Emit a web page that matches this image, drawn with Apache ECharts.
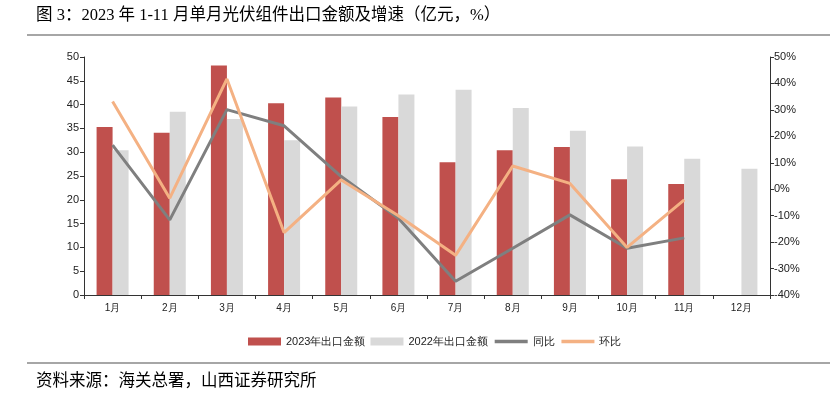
<!DOCTYPE html>
<html>
<head>
<meta charset="utf-8">
<script src="https://cdn.jsdelivr.net/npm/echarts@6/dist/echarts.min.js"></script>
<style>
html,body{margin:0;padding:0;background:#fff;}
#c{width:837px;height:394px;}
</style>
</head>
<body>
<div id="c"></div>
<script>
const categories = ['1月','2月','3月','4月','5月','6月','7月','8月','9月','10月','11月','12月'];
const export2023 = [35.3, 34.1, 48.2, 40.3, 41.5, 37.4, 27.9, 30.4, 31.1, 24.3, 23.3, null];
const export2022 = [30.4, 38.5, 37.0, 32.5, 39.6, 42.1, 43.1, 39.3, 34.5, 31.2, 28.6, 26.5];
const yoy = [16.7, -11.6, 30.1, 24.0, 4.8, -11.0, -34.8, -22.3, -9.7, -22.3, -18.4, null];
const mom = [33.2, -3.4, 41.7, -16.4, 3.5, -10.0, -25.0, 8.8, 2.2, -22.0, -4.0, null];
const leftTicks = {min: 0, max: 50, interval: 5};
const rightTicks = {min: -40, max: 50, interval: 10};

const chart = echarts.init(document.getElementById('c'));
const axisFont = 'Liberation Sans, Arial, sans-serif';
chart.setOption({
  animation: false,
  backgroundColor: '#fff',
  graphic: [
    {type: 'text', left: 36, top: 7, style: {text: '图 3：2023 年 1-11 月单月光伏组件出口金额及增速（亿元，%）', font: '16.5px "Liberation Serif", "Noto Sans CJK SC", serif', fill: '#000'}},
    {type: 'line', shape: {x1: 27, y1: 35, x2: 830, y2: 35}, style: {stroke: '#888', lineWidth: 1.5}},
    {type: 'line', shape: {x1: 27, y1: 363, x2: 830, y2: 363}, style: {stroke: '#888', lineWidth: 1.5}},
    {type: 'text', left: 36, top: 371, style: {text: '资料来源：海关总署，山西证券研究所', font: '16.5px "Noto Sans CJK SC", sans-serif', fill: '#000'}}
  ],
  grid: {left: 84, right: 67, top: 57, bottom: 99},
  legend: {
    top: 331, left: 243,
    itemWidth: 33, itemHeight: 8, itemGap: 5,
    textStyle: {fontSize: 11, color: '#222', fontFamily: axisFont},
    data: [
      {name: '2023年出口金额', icon: 'rect'},
      {name: '2022年出口金额', icon: 'rect'},
      {name: '同比', itemStyle: {opacity: 0}, lineStyle: {width: 3.5}},
      {name: '环比', itemStyle: {opacity: 0}, lineStyle: {width: 3.5}}
    ]
  },
  xAxis: {
    type: 'category', data: categories, boundaryGap: true,
    axisLine: {lineStyle: {color: '#333', width: 1}},
    axisTick: {show: true, length: 4, lineStyle: {color: '#333'}},
    axisLabel: {fontSize: 10, color: '#222', fontFamily: axisFont, margin: 8}
  },
  yAxis: [
    {type: 'value', min: leftTicks.min, max: leftTicks.max, interval: leftTicks.interval,
     splitLine: {show: false},
     axisLine: {show: true, lineStyle: {color: '#333'}},
     axisTick: {show: true, length: 4, lineStyle: {color: '#333'}},
     axisLabel: {fontSize: 11, color: '#222', fontFamily: axisFont, margin: 5}},
    {type: 'value', min: rightTicks.min, max: rightTicks.max, interval: rightTicks.interval,
     splitLine: {show: false},
     axisLine: {show: true, lineStyle: {color: '#333'}},
     axisTick: {show: true, length: 4, lineStyle: {color: '#333'}},
     axisLabel: {fontSize: 11, color: '#222', fontFamily: axisFont, margin: 4, formatter: '{value}%'}}
  ],
  series: [
    {name: '2023年出口金额', type: 'bar', data: export2023, barWidth: 16, barGap: '0%', itemStyle: {color: '#C0504D'}},
    {name: '2022年出口金额', type: 'bar', data: export2022, barWidth: 16, barGap: '0%', itemStyle: {color: '#D9D9D9'}},
    {name: '同比', type: 'line', yAxisIndex: 1, data: yoy, showSymbol: false, symbol: 'none', lineStyle: {color: '#7F7F7F', width: 3}, itemStyle: {color: '#7F7F7F'}},
    {name: '环比', type: 'line', yAxisIndex: 1, data: mom, showSymbol: false, symbol: 'none', lineStyle: {color: '#F4B183', width: 3}, itemStyle: {color: '#F4B183'}}
  ]
});
</script>
</body>
</html>
